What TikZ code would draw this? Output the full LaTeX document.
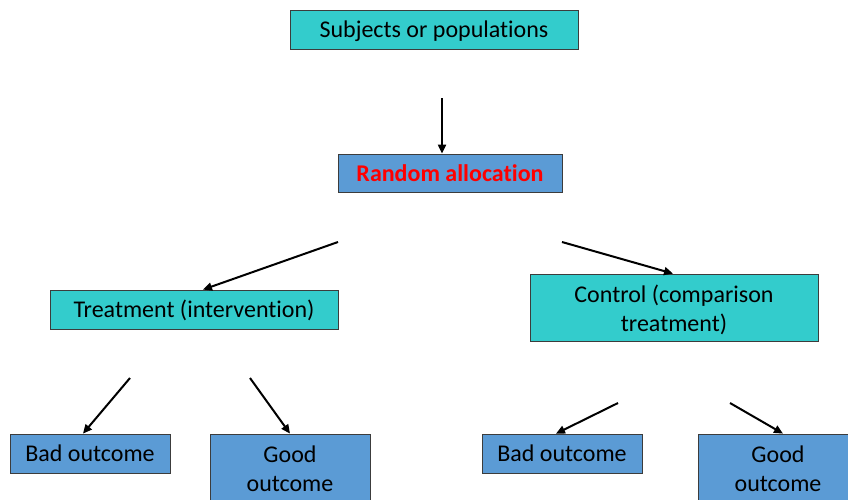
\documentclass[tikz,border=0pt]{standalone}
\usepackage{fontspec}
\setmainfont{Carlito}[Ligatures={NoCommon,NoContextual,NoRare},Contextuals=NoAlternate]
\usetikzlibrary{arrows.meta}
\definecolor{boxteal}{RGB}{51,204,204}
\definecolor{boxblue}{RGB}{91,155,213}
\definecolor{edgegray}{RGB}{60,60,60}
\begin{document}
\begin{tikzpicture}[x=1pt,y=-1pt,
  box/.style={draw=edgegray, line width=0.8pt, inner sep=0pt, align=center,
    font=\fontsize{24}{28.4}\selectfont, text=black},
  oneline/.style={text height=16.6pt, text depth=0pt, minimum height=39pt},
  twoline/.style={text height=47pt, text depth=0pt, minimum height=67pt},
  tealbox/.style={box, fill=boxteal},
  bluebox/.style={box, fill=boxblue},
  link/.style={-{Triangle[length=9pt,width=8pt]}, line width=2pt, black}]
\useasboundingbox[clip] (0,0) rectangle (848,499);
\fill[white] (0,0) rectangle (848,499);

% boxes
\node[tealbox, oneline, minimum width=288pt] (subj) at (434,29.5) {Subjects or populations};
\node[bluebox, oneline, minimum width=224pt, minimum height=38pt, text=red,
  font=\fontsize{24}{28.4}\selectfont\bfseries] (rand) at (450,173) {Random allocation};
\node[tealbox, oneline, minimum width=288pt] (treat) at (194,309.5) {Treatment (intervention)};
\node[tealbox, twoline, minimum width=288pt] (ctrl) at (674,307.5) {Control (comparison\\treatment)};
\node[bluebox, oneline, minimum width=160pt] (bad1) at (90,453.5) {Bad outcome};
\node[bluebox, twoline, minimum width=160pt] (good1) at (290,467.5) {Good\\outcome};
\node[bluebox, oneline, minimum width=160pt] (bad2) at (562,453.5) {Bad outcome};
\node[bluebox, twoline, minimum width=160pt] (good2) at (778,467.5) {Good\\outcome};

% free ends of the connectors
\coordinate (s1) at (442,98);
\coordinate (s2) at (338,242);
\coordinate (s3) at (562,242);
\coordinate (s4) at (130,378);
\coordinate (s5) at (250,378);
\coordinate (s6) at (618,403);
\coordinate (s7) at (730,403);

% connectors
\draw[link] (s1) -- (s1 |- rand.north);
\draw[link] (s2) -- ([xshift=9pt]treat.north);
\draw[link] (s3) -- ([xshift=-1pt]ctrl.north);
\draw[link] (s4) -- ([xshift=-7pt]bad1.north);
\draw[link] (s5) -- (good1.north);
\draw[link] (s6) -- ([xshift=-6pt]bad2.north);
\draw[link] (s7) -- ([xshift=5pt]good2.north);
\end{tikzpicture}
\end{document}
